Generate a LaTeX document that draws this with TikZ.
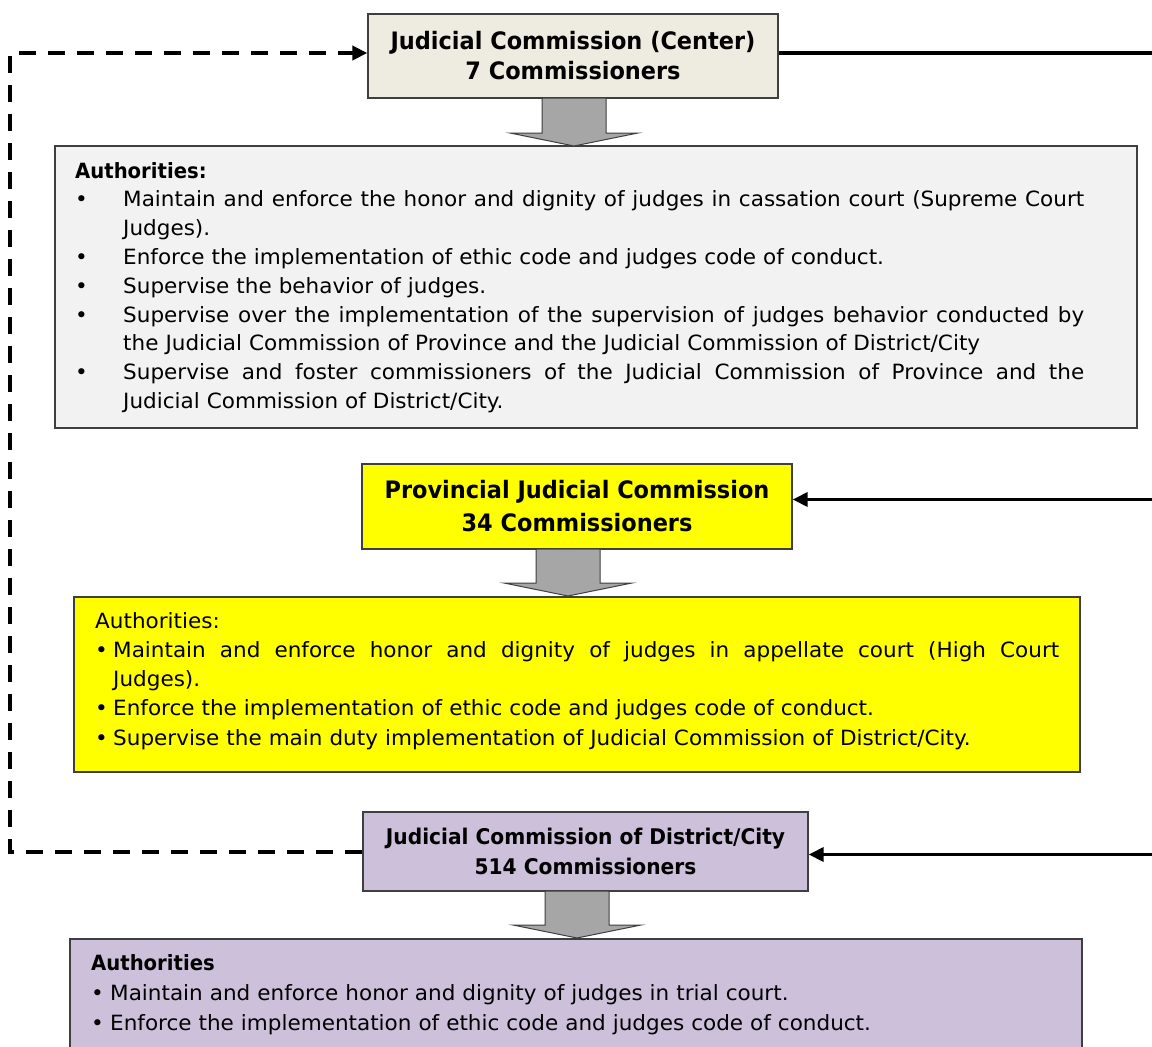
\documentclass[tikz,border=0pt]{standalone}
\usepackage{fontspec}
\setmainfont{DejaVu Sans}[FakeStretch=1.025]
\newfontfamily\bfam{DejaVu Sans}[FakeStretch=0.935]
\usetikzlibrary{arrows.meta,calc}
\definecolor{beigeA}{HTML}{EEECE1}
\definecolor{greyB}{HTML}{F2F2F2}
\definecolor{yellowC}{HTML}{FFFF00}
\definecolor{lilacE}{HTML}{CCC0DA}
\definecolor{edgecol}{HTML}{3F3F3F}
\definecolor{arrfill}{HTML}{A6A6A6}
\newcommand\jl[2]{\hbox to #1{\spaceskip=\fontdimen2\font plus 1fil minus 0.3\fontdimen2\font\relax #2}}
\newcommand\hd[1]{{\bfam\bfseries #1}}
\newcommand\blockarr[4]{%
  \draw[blockarrow] (#1-32,#2) -- (#1+32,#2) -- (#1+32,#3) -- (#1+64,#3) -- (#1,#4) -- (#1-64,#3) -- (#1-32,#3) -- cycle;}
\begin{document}
\begin{tikzpicture}[x=1pt,y=-1pt,
  titlebox/.style={draw=edgecol, line width=1.3pt, inner sep=0pt, align=center},
  authbox/.style={draw=edgecol, line width=1.3pt, inner sep=0pt},
  bodytext/.style={anchor=north west, inner sep=0pt, align=left, text width=1030pt},
  blockarrow/.style={draw=edgecol, line width=1pt, fill=arrfill},
  dashlink/.style={line width=4pt, dash pattern=on 17pt off 12pt, -{Triangle[length=15pt,width=14pt]}},
  solidlink/.style={line width=3.5pt},
  inlink/.style={line width=3.5pt, -{Triangle[length=15pt,width=14pt]}}]
\clip (0,0) rectangle (1152,1047);
\fill[white] (0,0) rectangle (1152,1047);

% title boxes
\node[titlebox, fill=beigeA, minimum width=410pt, minimum height=84pt,
  font=\bfam\bfseries\fontsize{24}{30}\selectfont] (A) at (573,56)
  {Judicial Commission (Center)\\7 Commissioners};
\node[titlebox, fill=yellowC, minimum width=430pt, minimum height=85pt,
  font=\bfam\bfseries\fontsize{24}{33}\selectfont] (C) at (577,506.5)
  {Provincial Judicial Commission\\34 Commissioners};
\node[titlebox, fill=lilacE, minimum width=445pt, minimum height=79pt,
  font=\bfam\bfseries\fontsize{21.6}{30}\selectfont] (E) at (585.5,851.5)
  {Judicial Commission of District/City\\514 Commissioners};

% authority boxes
\node[authbox, fill=greyB, minimum width=1082pt, minimum height=282pt] (B) at (596,287) {};
\node[authbox, fill=yellowC, minimum width=1006pt, minimum height=175pt] (D) at (577,684.5) {};
\node[authbox, fill=lilacE, minimum width=1012pt, minimum height=130pt] (F) at (576,1004) {};

% block arrows
\blockarr{574}{98}{133}{146}
\blockarr{568}{549}{583}{596}
\blockarr{577}{891}{925}{938}

% texts
\node[bodytext, font=\fontsize{21}{28.8}\selectfont] (Btext) at (75,157.8)
  {\strut\hd{Authorities:}\\
   \makebox[48pt][l]{•}\jl{961pt}{Maintain and enforce the honor and dignity of judges in cassation court (Supreme Court}\\
   \hspace*{48pt}Judges).\\
   \makebox[48pt][l]{•}Enforce the implementation of ethic code and judges code of conduct.\\
   \makebox[48pt][l]{•}Supervise the behavior of judges.\\
   \makebox[48pt][l]{•}\jl{961pt}{Supervise over the implementation of the supervision of judges behavior conducted by}\\
   \hspace*{48pt}the Judicial Commission of Province and the Judicial Commission of District/City\\
   \makebox[48pt][l]{•}\jl{961pt}{Supervise and foster commissioners of the Judicial Commission of Province and the}\\
   \hspace*{48pt}Judicial Commission of District/City.};

\node[bodytext, font=\fontsize{21}{29.2}\selectfont] (Dtext) at (95,607.6)
  {\strut Authorities:\\
   \makebox[18pt][l]{•}\jl{946pt}{Maintain and enforce honor and dignity of judges in appellate court (High Court}\\
   \hspace*{18pt}Judges).\\
   \makebox[18pt][l]{•}Enforce the implementation of ethic code and judges code of conduct.\\
   \makebox[18pt][l]{•}Supervise the main duty implementation of Judicial Commission of District/City.};

\node[bodytext, font=\fontsize{21}{30}\selectfont] (Ftext) at (91,949)
  {\strut\hd{Authorities}\\
   \makebox[19pt][l]{•}Maintain and enforce honor and dignity of judges in trial court.\\
   \makebox[19pt][l]{•}Enforce the implementation of ethic code and judges code of conduct.};

% connectors
\coordinate (lft) at (10,0);
\coordinate (Aw) at ($(A.west)+(0,-3)$);
\coordinate (Ae) at ($(A.east)+(0,-3)$);
\coordinate (Ce) at ($(C.east)+(0,-7)$);
\coordinate (Ee) at ($(E.east)+(0,3)$);
\coordinate (r1) at (1152,0 |- Ae);
\coordinate (r2) at (1152,0 |- Ce);
\coordinate (r3) at (1152,0 |- Ee);
\draw[dashlink] (E.west) -- (E.west -| lft) -- (lft |- Aw) -- (Aw);
\draw[solidlink] (Ae) -- (Ae -| r1);
\draw[inlink] (Ce -| r2) -- (Ce);
\draw[inlink] (Ee -| r3) -- (Ee);
\end{tikzpicture}
\end{document}
